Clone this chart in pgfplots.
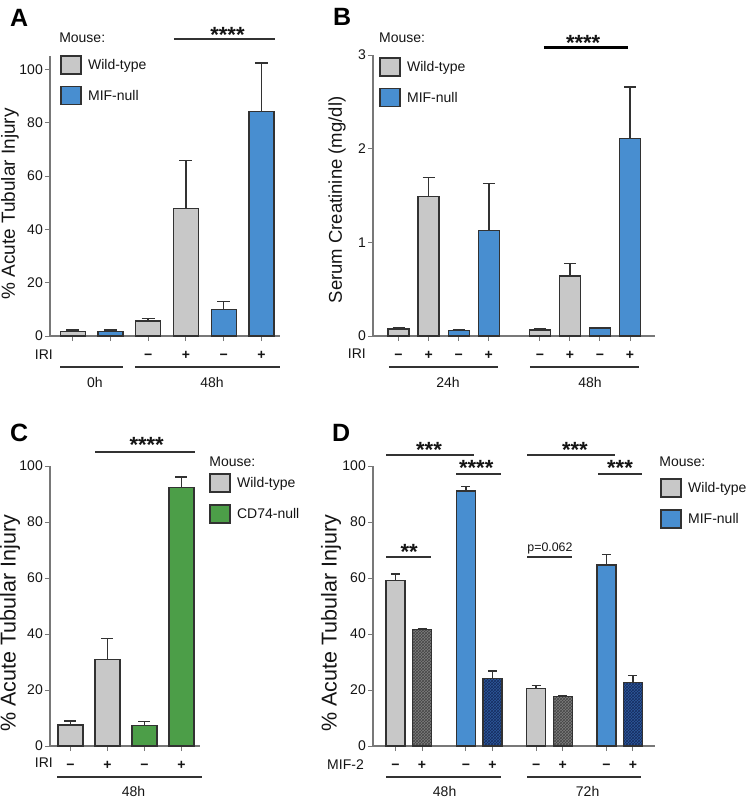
\documentclass[border=0pt]{standalone}
\usepackage{fontspec}
\setmainfont{Liberation Sans}
\usepackage{pgfplots}
\pgfplotsset{compat=1.18}
\usetikzlibrary{patterns}
\definecolor{wtgray}{RGB}{200,200,200}
\definecolor{mifblue}{RGB}{72,142,208}
\definecolor{cdgreen}{RGB}{76,158,72}
\definecolor{hgray}{RGB}{125,125,125}
\definecolor{hgrayd}{RGB}{70,70,70}
\definecolor{hblue}{RGB}{45,88,155}
\definecolor{hblued}{RGB}{22,45,95}
\definecolor{edge}{RGB}{50,50,50}
\definecolor{axgray}{RGB}{120,120,120}
\definecolor{txt}{RGB}{20,20,20}
\newcommand{\fs}[1]{\fontsize{#1}{#1}\selectfont}
\tikzset{sigstar/.style={anchor=base, font=\bfseries\fs{22}, text=txt, inner sep=0pt, yshift=3pt}}
\pgfplotsset{
  panel/.style={
    scale only axis, clip=false,
    axis x line*=bottom, axis y line*=left,
    axis line style={-, draw=axgray, line width=1.2pt},
    major tick style={draw=axgray, line width=1pt},
    tick align=outside, major tick length=5pt,
    ymin=0,
    /pgf/number format/assume math mode=true,
    yticklabel style={font=\fs{14}, text=txt, inner sep=2pt},
    xticklabel style={font=\bfseries\fs{14}, text=txt, anchor=center, text height=7pt, text depth=0pt, inner sep=0pt, yshift=-15pt},
    legend cell align=left,
    legend style={draw=none, fill=none, font=\fs{14}, text=txt, inner sep=0pt, nodes={inner sep=0pt}, row sep=11.5pt, column sep=6.5pt, anchor=north west},
    legend image code/.code={\draw[#1, line width=1.4pt] (0pt,-9pt) rectangle (20pt,9pt);},
    every axis y label/.style={rotate=90, anchor=center, text=txt},
  },
  bars/.style={ybar, bar shift=0pt, draw=edge, line width=1.3pt,
    error bars/y dir=plus, error bars/y explicit,
    error bars/error bar style={draw=edge, line width=1.5pt},
    error bars/error mark options={rotate=90, draw=edge, line width=1.5pt, mark size=#1}},
  bars/.default=6pt,
}
\begin{document}
\begin{tikzpicture}
\useasboundingbox (0pt,0pt) rectangle (747pt,-801pt);

% ---------------- Panel A ----------------
\begin{axis}[panel, at={(50pt,-336pt)}, anchor=south west, width=230pt, height=280pt,
  xmin=-0.6, xmax=5.49, ymax=105, ytick={0,20,40,60,80,100}, bar width=25pt,
  xtick={0,1,2,3,4,5}, xticklabels={,,−,+,−,+},
  ylabel={\fs{19}\% Acute Tubular Injury},
  ylabel style={at={(rel axis cs:-0.174,0.4714)}},
  legend style={at={(rel axis cs:0.0435,1.0036)}}]
\addplot[bars=6.5pt, fill=wtgray] coordinates {(0,1.8) +- (0,0.5) (2,5.6) +- (0,1.0) (3,47.8) +- (0,18)};
\addplot[bars=6.5pt, fill=mifblue] coordinates {(1,1.8) +- (0,0.4) (4,10) +- (0,3) (5,84.2) +- (0,18.2)};
\legend{Wild-type, MIF-null}
\node[anchor=east, font=\fs{14}, text=txt, inner sep=0pt] at (axis cs:-0.52,-7.1) {IRI};
\draw[edge, line width=2pt] (axis cs:-0.335,-11.6) -- (axis cs:1.33,-11.6);
\draw[edge, line width=2pt] (axis cs:1.65,-11.6) -- (axis cs:5.49,-11.6);
\node[font=\fs{14}, text=txt] at (axis cs:0.59,-17.25) {0h};
\node[font=\fs{14}, text=txt] at (axis cs:3.69,-17.25) {48h};
\draw[edge, line width=2pt] (axis cs:2.68,111.4) -- (axis cs:5.36,111.4);
\node[sigstar] at (axis cs:4.1,109.1) {****};
\node[anchor=west, font=\fs{14}, text=txt, inner sep=0pt] at (axis cs:-0.36,111.75) {Mouse:};
\node[anchor=base west, font=\bfseries\fs{25}, inner sep=0pt] at (axis cs:-1.66,116.25) {A};
\end{axis}

% ---------------- Panel B ----------------
\begin{axis}[panel, at={(373pt,-336pt)}, anchor=south west, width=282pt, height=281pt,
  xmin=-0.85, xmax=8.53, ymax=3, ytick={0,1,2,3}, bar width=21pt,
  xtick={0,1,2,3,4.7,5.7,6.7,7.7}, xticklabels={−,+,−,+,−,+,−,+},
  ylabel={\fs{18.5}Serum Creatinine (mg/dl)},
  ylabel style={at={(rel axis cs:-0.1277,0.484)}},
  legend style={at={(rel axis cs:0.0213,0.993)}}]
\addplot[bars=6pt, fill=wtgray] coordinates {(0,0.075) +- (0,0.008) (1,1.49) +- (0,0.2) (4.7,0.065) +- (0,0.008) (5.7,0.64) +- (0,0.135)};
\addplot[bars=6pt, fill=mifblue] coordinates {(2,0.06) +- (0,0.006) (3,1.13) +- (0,0.5) (6.7,0.085) +- (0,0.008) (7.7,2.107) +- (0,0.55)};
\legend{Wild-type, MIF-null}
\node[anchor=east, font=\fs{14}, text=txt, inner sep=0pt] at (axis cs:-1.08,-0.192) {IRI};
\draw[edge, line width=2pt] (axis cs:-0.318,-0.331) -- (axis cs:3.31,-0.331);
\draw[edge, line width=2pt] (axis cs:4.37,-0.331) -- (axis cs:8.0,-0.331);
\node[font=\fs{14}, text=txt] at (axis cs:1.645,-0.491) {24h};
\node[font=\fs{14}, text=txt] at (axis cs:6.37,-0.491) {48h};
\draw[black, line width=3pt] (axis cs:4.83,3.078) -- (axis cs:7.63,3.078);
\node[sigstar] at (axis cs:6.14,3.02) {****};
\node[anchor=west, font=\fs{14}, text=txt, inner sep=0pt] at (axis cs:-0.65,3.18) {Mouse:};
\node[anchor=base west, font=\bfseries\fs{25}, inner sep=0pt] at (axis cs:-2.18,3.31) {B};
\end{axis}

% ---------------- Panel C ----------------
\begin{axis}[panel, at={(50pt,-746pt)}, anchor=south west, width=150pt, height=280pt,
  xmin=-0.55, xmax=3.5, ymax=100, ytick={0,20,40,60,80,100}, bar width=25pt,
  xtick={0,1,2,3}, xticklabels={−,+,−,+},
  ylabel={\fs{21.5}\% Acute Tubular Injury},
  ylabel style={at={(rel axis cs:-0.267,0.439)}},
  legend style={at={(rel axis cs:1.06,0.975)}}]
\addplot[bars=6pt, fill=wtgray] coordinates {(0,7.5) +- (0,1.5) (1,30.9) +- (0,7.5)};
\addplot[bars=6pt, fill=cdgreen] coordinates {(2,7.25) +- (0,1.45) (3,92.3) +- (0,3.8)};
\legend{Wild-type, CD74-null}
\node[anchor=east, font=\fs{14}, text=txt, inner sep=0pt] at (axis cs:-0.47,-6.07) {IRI};
\draw[edge, line width=2pt] (axis cs:-0.36,-11.07) -- (axis cs:3.56,-11.07);
\node[font=\fs{14}, text=txt] at (axis cs:1.707,-16.07) {48h};
\draw[edge, line width=2pt] (axis cs:0.666,105) -- (axis cs:3.37,105);
\node[sigstar] at (axis cs:2.06,103.6) {****};
\node[anchor=west, font=\fs{14}, text=txt, inner sep=0pt] at (axis cs:3.75,101.4) {Mouse:};
\node[anchor=base west, font=\bfseries\fs{25}, inner sep=0pt] at (axis cs:-1.63,108.6) {C};
\end{axis}

% ---------------- Panel D ----------------
\begin{axis}[panel, at={(373pt,-746pt)}, anchor=south west, width=282pt, height=280pt,
  xmin=-0.85, xmax=9.78, ymax=100, ytick={0,20,40,60,80,100}, bar width=19pt,
  xtick={0,1,2.65,3.65,5.3,6.3,7.95,8.95}, xticklabels={−,+,−,+,−,+,−,+},
  ylabel={\fs{21.5}\% Acute Tubular Injury},
  ylabel style={at={(rel axis cs:-0.149,0.439)}},
  legend style={at={(rel axis cs:1.018,0.957)}}]
\addplot[bars=4.5pt, fill=wtgray] coordinates {(0,59.2) +- (0,2.2) (5.3,20.6) +- (0,1.0)};
\addplot[bars=4.5pt, fill=mifblue] coordinates {(2.65,91.1) +- (0,1.6) (7.95,64.6) +- (0,3.8)};
\addplot[bars=4.5pt, fill=hgray, postaction={pattern=crosshatch, pattern color=hgrayd}, forget plot] coordinates {(1,41.6) +- (0,0.4) (6.3,17.6) +- (0,0.2)};
\addplot[bars=4.5pt, fill=hblue, postaction={pattern=crosshatch, pattern color=hblued}, forget plot] coordinates {(3.65,24.1) +- (0,2.7) (8.95,22.8) +- (0,2.4)};
\legend{Wild-type, MIF-null}
\node[anchor=east, font=\fs{14}, text=txt, inner sep=0pt] at (axis cs:-1.19,-6.8) {MIF-2};
\draw[edge, line width=2pt] (axis cs:-0.36,-11.07) -- (axis cs:3.98,-11.07);
\draw[edge, line width=2pt] (axis cs:4.96,-11.07) -- (axis cs:9.26,-11.07);
\node[font=\fs{14}, text=txt] at (axis cs:1.85,-16.07) {48h};
\node[font=\fs{14}, text=txt] at (axis cs:7.24,-16.07) {72h};
\draw[edge, line width=2pt] (axis cs:-0.36,104) -- (axis cs:2.96,104);
\draw[edge, line width=2pt] (axis cs:2.28,97.1) -- (axis cs:3.98,97.1);
\draw[edge, line width=2pt] (axis cs:-0.36,67.5) -- (axis cs:1.34,67.5);
\draw[edge, line width=2pt] (axis cs:4.96,104) -- (axis cs:8.28,104);
\draw[edge, line width=2pt] (axis cs:7.64,97.1) -- (axis cs:9.3,97.1);
\draw[edge, line width=2pt] (axis cs:4.96,67.5) -- (axis cs:6.66,67.5);
\node[sigstar] at (axis cs:1.26,102.1) {***};
\node[sigstar] at (axis cs:3.04,95.4) {****};
\node[sigstar] at (axis cs:0.51,65.7) {**};
\node[sigstar] at (axis cs:6.76,102.1) {***};
\node[sigstar] at (axis cs:8.46,95.4) {***};
\node[anchor=base, font=\fs{12.4}, text=txt, inner sep=0pt] at (axis cs:5.82,69.4) {p=0.062};
\node[anchor=west, font=\fs{14}, text=txt, inner sep=0pt] at (axis cs:9.94,101.4) {Mouse:};
\node[anchor=base west, font=\bfseries\fs{25}, inner sep=0pt] at (axis cs:-2.40,108.6) {D};
\end{axis}
\end{tikzpicture}
\end{document}
